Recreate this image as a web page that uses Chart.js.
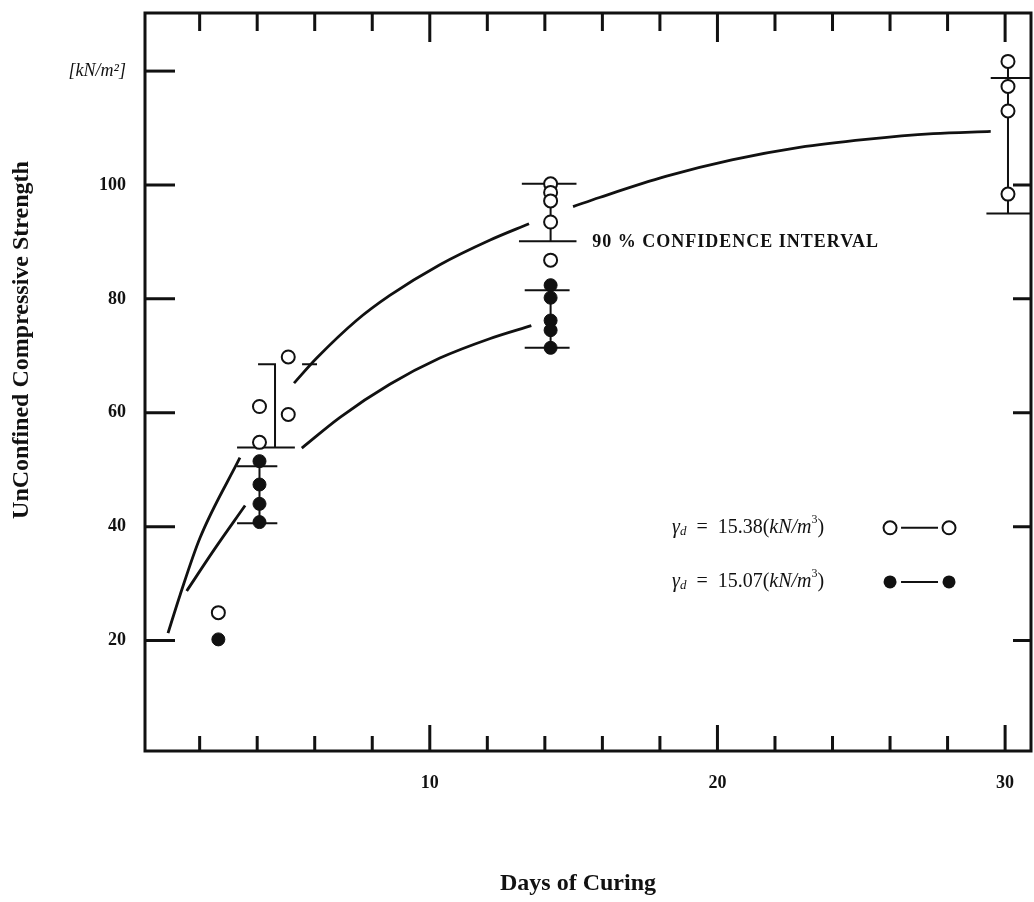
<!DOCTYPE html>
<html>
<head>
<meta charset="utf-8">
<script src="https://cdn.jsdelivr.net/npm/chart.js@4.4.1/dist/chart.umd.min.js"></script>
<style>
	body { margin: 0; background: #fff; overflow: hidden; }
	#wrap { width: 1034px; height: 902px; }
	canvas { display: block; }
</style>
</head>
<body>
<div id="wrap"><canvas id="strengthChart"></canvas></div>
<script>
// gamma_d = 15.38 kN/m3 (open circles)
const openDays = [2.65, 4.08, 4.08, 5.08, 5.08, 14.2, 14.2, 14.2, 14.2, 14.2, 30.1, 30.1, 30.1, 30.1];
const openVals = [24.9, 61.1, 54.8, 69.8, 59.7, 100.2, 98.7, 97.2, 93.5, 86.8, 121.7, 117.3, 113.0, 98.4];

// gamma_d = 15.07 kN/m3 (filled circles)
const filledDays = [2.65, 4.08, 4.08, 4.08, 4.08, 14.2, 14.2, 14.2, 14.2, 14.2];
const filledVals = [20.2, 51.5, 47.4, 44.0, 40.8, 82.4, 80.2, 76.2, 74.5, 71.4];

// fitted curves (null = break in the line)
const upperDays = [0.9, 1.32, 2.01, 3.4, 4.3, 5.28, 6.07, 7.45, 8.61, 10.35, 12.08, 13.45, 14.2, 14.98, 15.9, 18.2, 20.5, 22.85, 25.16, 27.5, 29.5];
const upperVals = [21.3, 28.0, 38.0, 52.1, null, 65.2, 69.6, 76.2, 80.6, 86.0, 90.3, 93.2, null, 96.2, 97.8, 101.5, 104.4, 106.6, 108.0, 109.0, 109.4];
const lowerDays = [1.55, 2.47, 3.58, 4.6, 5.55, 6.88, 8.61, 10.35, 12.08, 13.53];
const lowerVals = [28.7, 35.7, 43.7, null, 53.8, 59.2, 65.0, 69.6, 73.0, 75.3];

// 90 % confidence interval marks (null = pen up)
const ciDays = [4.03, 4.62, 4.62, null, 3.3, 5.31, null, 5.56, 6.08, null,
	3.3, 4.7, null, 3.3, 4.7, null, 4.08, 4.08, null,
	13.2, 15.1, null, 13.1, 15.1, null, 14.2, 14.2, null,
	13.3, 14.86, null, 13.3, 14.86, null, 14.2, 14.2, null,
	29.5, 30.9, null, 29.35, 30.9, null, 30.1, 30.1];
const ciVals = [68.5, 68.5, 53.9, null, 53.9, 53.9, null, 68.5, 68.5, null,
	50.6, 50.6, null, 40.6, 40.6, null, 40.6, 51.5, null,
	100.2, 100.2, null, 90.1, 90.1, null, 90.1, 100.2, null,
	81.5, 81.5, null, 71.4, 71.4, null, 71.4, 82.4, null,
	118.8, 118.8, null, 95.0, 95.0, null, 95.0, 121.7];

// axes
const xTickVals = [2, 4, 6, 8, 10, 12, 14, 16, 18, 20, 22, 24, 26, 28, 30];
const xTickLabels = ['', '', '', '', '10', '', '', '', '', '20', '', '', '', '', '30'];
const yTickVals = [20, 40, 60, 80, 100, 120];
const yTickLabels = ['20', '40', '60', '80', '100', '[kN/m²]'];

const xTitle = 'Days of Curing';
const yTitle = 'UnConfined Compressive Strength';
const ciText = '90 % CONFIDENCE INTERVAL';
const legendLabels = ['15.38', '15.07'];

const serif = '"Liberation Serif", "DejaVu Serif", serif';
const ink = '#111';

function pts(xs, ys) {
	return xs.map((x, i) => ({ x: x, y: (x === null || ys[i] === null) ? null : ys[i] }));
}

function drawRich(ctx, parts, x, y) {
	parts.forEach(p => {
		ctx.font = p[1];
		ctx.fillText(p[0], x, y + (p[2] || 0));
		x += ctx.measureText(p[0]).width;
	});
}

const figurePlugin = {
	id: 'figurePlugin',
	afterDraw(chart) {
		const ctx = chart.ctx;
		const a = chart.chartArea;
		const xs = chart.scales.x;
		const ys = chart.scales.y;
		ctx.save();
		ctx.strokeStyle = ink;
		ctx.fillStyle = ink;

		// frame
		ctx.lineWidth = 3;
		ctx.strokeRect(a.left, a.top, a.right - a.left, a.bottom - a.top);

		// inward ticks on all four sides
		xs.ticks.forEach(t => {
			const px = xs.getPixelForValue(t.value);
			const major = t.value % 10 === 0;
			ctx.beginPath();
			ctx.moveTo(px, a.bottom);
			ctx.lineTo(px, a.bottom - (major ? 26 : 15));
			ctx.moveTo(px, a.top);
			ctx.lineTo(px, a.top + (major ? 29 : 18));
			ctx.stroke();
		});
		ys.ticks.forEach(t => {
			const py = ys.getPixelForValue(t.value);
			ctx.beginPath();
			ctx.moveTo(a.left, py);
			ctx.lineTo(a.left + 30, py);
			if (t.value < 120) {
				ctx.moveTo(a.right, py);
				ctx.lineTo(a.right - 18, py);
			}
			ctx.stroke();
		});

		// axis titles
		ctx.textAlign = 'center';
		ctx.textBaseline = 'middle';
		ctx.font = 'bold 24px ' + serif;
		ctx.fillText(xTitle, 578, 884);
		ctx.save();
		ctx.translate(22, 340);
		ctx.rotate(-Math.PI / 2);
		ctx.fillText(yTitle, 0, 0);
		ctx.restore();

		// confidence interval note
		ctx.textAlign = 'left';
		ctx.font = 'bold 18px ' + serif;
		ctx.letterSpacing = '1px';
		ctx.fillText(ciText, xs.getPixelForValue(15.65), ys.getPixelForValue(90.1) + 1);
		ctx.letterSpacing = '0px';

		// legend
		const lx = xs.getPixelForValue(18.42);
		const rows = [ys.getPixelForValue(39.8), ys.getPixelForValue(30.3)];
		rows.forEach((ry, i) => {
			ctx.textAlign = 'left';
			drawRich(ctx, [
				['γ', 'italic 20px ' + serif],
				['d', 'italic 13px ' + serif, 4],
				['  =  ' + legendLabels[i] + '(', '20px ' + serif],
				['kN/m', 'italic 20px ' + serif],
				['3', '12px ' + serif, -8],
				[')', '20px ' + serif]
			], lx, ry);
			const m1 = xs.getPixelForValue(26.0);
			const m2 = xs.getPixelForValue(28.05);
			ctx.lineWidth = 2;
			ctx.beginPath();
			ctx.moveTo(m1 + 11, ry);
			ctx.lineTo(m2 - 11, ry);
			ctx.stroke();
			[m1, m2].forEach(mx => {
				ctx.beginPath();
				ctx.arc(mx, ry, 6.5, 0, Math.PI * 2);
				if (i === 0) {
					ctx.fillStyle = '#fff';
					ctx.fill();
					ctx.stroke();
					ctx.fillStyle = ink;
				} else {
					ctx.fill();
				}
			});
		});
		ctx.restore();
	}
};

const tickFont = ctx => (ctx.tick && ctx.tick.value === 120)
	? { family: serif, size: 18, style: 'italic' }
	: { family: serif, size: 18, weight: 'bold' };

new Chart(document.getElementById('strengthChart'), {
	type: 'scatter',
	data: {
		datasets: [
			{
				label: '15.38',
				data: pts(openDays, openVals),
				pointStyle: 'circle',
				pointRadius: 6.5,
				pointBorderWidth: 2,
				pointBackgroundColor: '#fff',
				pointBorderColor: ink,
				order: 0
			},
			{
				label: '15.07',
				data: pts(filledDays, filledVals),
				pointStyle: 'circle',
				pointRadius: 6.5,
				pointBorderWidth: 1,
				pointBackgroundColor: ink,
				pointBorderColor: ink,
				order: 0
			},
			{
				label: 'upper fit',
				data: pts(upperDays, upperVals),
				showLine: true,
				spanGaps: false,
				borderColor: ink,
				borderWidth: 2.8,
				pointRadius: 0,
				cubicInterpolationMode: 'monotone',
				order: 2
			},
			{
				label: 'lower fit',
				data: pts(lowerDays, lowerVals),
				showLine: true,
				spanGaps: false,
				borderColor: ink,
				borderWidth: 2.8,
				pointRadius: 0,
				cubicInterpolationMode: 'monotone',
				order: 2
			},
			{
				label: 'ci',
				data: pts(ciDays, ciVals),
				showLine: true,
				spanGaps: false,
				borderColor: ink,
				borderWidth: 2,
				pointRadius: 0,
				tension: 0,
				order: 1
			}
		]
	},
	options: {
		responsive: true,
		maintainAspectRatio: false,
		animation: false,
		layout: { autoPadding: false, padding: { top: 13, right: 3, left: 0, bottom: 0 } },
		plugins: {
			legend: { display: false },
			tooltip: { enabled: false }
		},
		scales: {
			x: {
				type: 'linear',
				min: 0.1,
				max: 30.9,
				bounds: 'data',
				afterBuildTicks: s => { s.ticks = xTickVals.map(v => ({ value: v })); },
				afterFit: s => { s.height = 151; s.paddingLeft = 0; s.paddingRight = 0; },
				grid: { display: false, drawTicks: false },
				border: { display: false },
				ticks: {
					color: ink,
					padding: 22,
					maxRotation: 0,
					autoSkip: false,
					font: tickFont,
					callback: (v, i) => xTickLabels[i]
				}
			},
			y: {
				type: 'linear',
				min: 0.6,
				max: 130.2,
				bounds: 'data',
				afterBuildTicks: s => { s.ticks = yTickVals.map(v => ({ value: v })); },
				afterFit: s => { s.width = 145; s.paddingTop = 0; s.paddingBottom = 0; },
				grid: { display: false, drawTicks: false },
				border: { display: false },
				ticks: {
					color: ink,
					padding: 19,
					autoSkip: false,
					font: tickFont,
					callback: (v, i) => yTickLabels[i]
				}
			}
		}
	},
	plugins: [figurePlugin]
});
</script>
</body>
</html>
